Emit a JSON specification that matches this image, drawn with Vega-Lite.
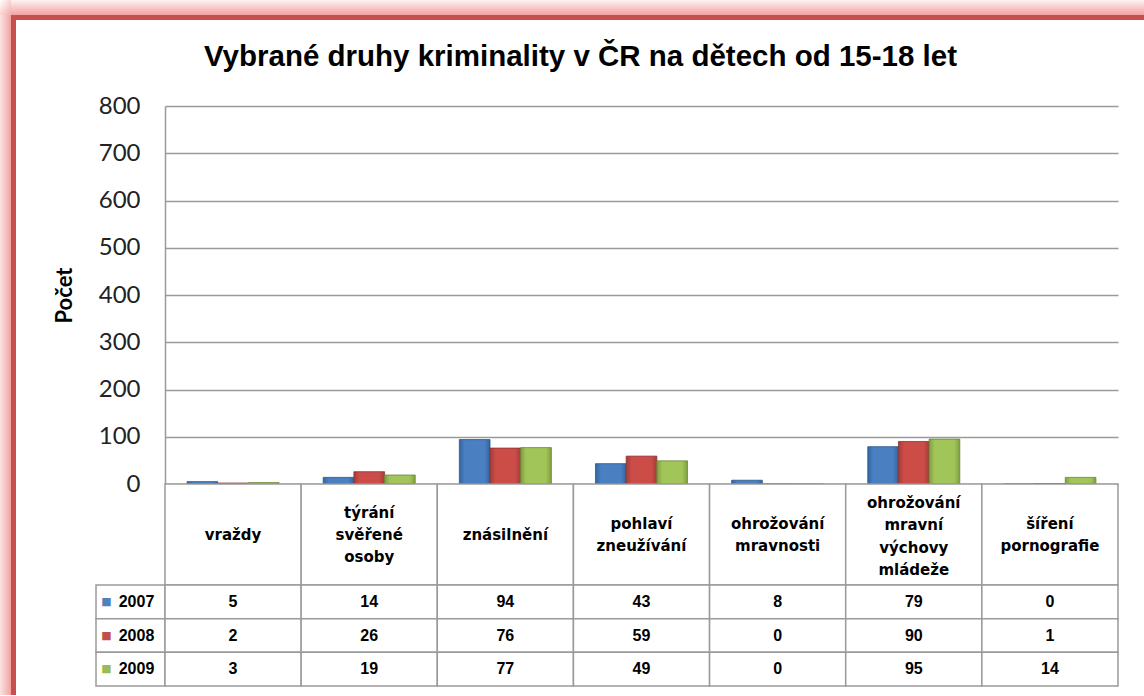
{
  "$schema": "https://vega.github.io/schema/vega-lite/v6.json",
  "background": "white",
  "padding": 0,
  "datasets": {
    "crime": [
      {"category": "vraždy", "year": "2007", "value": 5},
      {"category": "vraždy", "year": "2008", "value": 2},
      {"category": "vraždy", "year": "2009", "value": 3},
      {"category": "týrání svěřené osoby", "year": "2007", "value": 14},
      {"category": "týrání svěřené osoby", "year": "2008", "value": 26},
      {"category": "týrání svěřené osoby", "year": "2009", "value": 19},
      {"category": "znásilnění", "year": "2007", "value": 94},
      {"category": "znásilnění", "year": "2008", "value": 76},
      {"category": "znásilnění", "year": "2009", "value": 77},
      {"category": "pohlaví zneužívání", "year": "2007", "value": 43},
      {"category": "pohlaví zneužívání", "year": "2008", "value": 59},
      {"category": "pohlaví zneužívání", "year": "2009", "value": 49},
      {"category": "ohrožování mravnosti", "year": "2007", "value": 8},
      {"category": "ohrožování mravnosti", "year": "2008", "value": 0},
      {"category": "ohrožování mravnosti", "year": "2009", "value": 0},
      {"category": "ohrožování mravní výchovy mládeže", "year": "2007", "value": 79},
      {"category": "ohrožování mravní výchovy mládeže", "year": "2008", "value": 90},
      {"category": "ohrožování mravní výchovy mládeže", "year": "2009", "value": 95},
      {"category": "šíření pornografie", "year": "2007", "value": 0},
      {"category": "šíření pornografie", "year": "2008", "value": 1},
      {"category": "šíření pornografie", "year": "2009", "value": 14}
    ]
  },
  "data": {"name": "crime"},
  "columns": 5,
  "spacing": 0,
  "bounds": "flush",
  "concat": [
    {"width": 11, "height": 15, "transform": [{"filter": "datum.category == 'vraždy' && datum.year == '2007'"}], "mark": {"type": "rect", "color": {"gradient": "linear", "x1": 0, "y1": 0, "x2": 1, "y2": 1, "stops": [{"offset": 0, "color": "#ffffff"}, {"offset": 1, "color": "#f3acab"}]}}, "encoding": {}},
    {"width": 5, "height": 15, "transform": [{"filter": "datum.category == 'vraždy' && datum.year == '2007'"}], "mark": {"type": "rect", "color": {"gradient": "linear", "x1": 0, "y1": 0, "x2": 0, "y2": 1, "stops": [{"offset": 0, "color": "#fef3f3"}, {"offset": 1, "color": "#f2a2a1"}]}}, "encoding": {}},
    {"width": 80, "height": 15, "transform": [{"filter": "datum.category == 'vraždy' && datum.year == '2007'"}], "mark": {"type": "rect", "color": {"gradient": "linear", "x1": 0, "y1": 0, "x2": 0, "y2": 1, "stops": [{"offset": 0, "color": "#fef3f3"}, {"offset": 1, "color": "#f2a2a1"}]}}, "encoding": {}},
    {"width": 69, "height": 15, "transform": [{"filter": "datum.category == 'vraždy' && datum.year == '2007'"}], "mark": {"type": "rect", "color": {"gradient": "linear", "x1": 0, "y1": 0, "x2": 0, "y2": 1, "stops": [{"offset": 0, "color": "#fef3f3"}, {"offset": 1, "color": "#f2a2a1"}]}}, "encoding": {}},
    {"width": 979, "height": 15, "transform": [{"filter": "datum.category == 'vraždy' && datum.year == '2007'"}], "mark": {"type": "rect", "color": {"gradient": "linear", "x1": 0, "y1": 0, "x2": 0, "y2": 1, "stops": [{"offset": 0, "color": "#fef3f3"}, {"offset": 1, "color": "#f2a2a1"}]}}, "encoding": {}},

    {"width": 11, "height": 5, "transform": [{"filter": "datum.category == 'vraždy' && datum.year == '2007'"}], "mark": {"type": "rect", "color": {"gradient": "linear", "x1": 0, "y1": 0, "x2": 1, "y2": 0, "stops": [{"offset": 0, "color": "#fce3e3"}, {"offset": 1, "color": "#f2a2a1"}]}}, "encoding": {}},
    {"width": 5, "height": 5, "transform": [{"filter": "datum.category == 'vraždy' && datum.year == '2007'"}], "mark": {"type": "rect", "color": "#c5504e"}, "encoding": {}},
    {"width": 80, "height": 5, "transform": [{"filter": "datum.category == 'vraždy' && datum.year == '2007'"}], "mark": {"type": "rect", "color": "#c5504e"}, "encoding": {}},
    {"width": 69, "height": 5, "transform": [{"filter": "datum.category == 'vraždy' && datum.year == '2007'"}], "mark": {"type": "rect", "color": "#c5504e"}, "encoding": {}},
    {"width": 979, "height": 5, "transform": [{"filter": "datum.category == 'vraždy' && datum.year == '2007'"}], "mark": {"type": "rect", "color": "#c5504e"}, "encoding": {}},

    {"width": 11, "height": 86, "transform": [{"filter": "datum.category == 'vraždy' && datum.year == '2007'"}], "mark": {"type": "rect", "color": {"gradient": "linear", "x1": 0, "y1": 0, "x2": 1, "y2": 0, "stops": [{"offset": 0, "color": "#fce3e3"}, {"offset": 1, "color": "#f2a2a1"}]}}, "encoding": {}},
    {"width": 5, "height": 86, "transform": [{"filter": "datum.category == 'vraždy' && datum.year == '2007'"}], "mark": {"type": "rect", "color": "#c5504e"}, "encoding": {}},
    {"width": 80, "height": 86, "mark": {"type": "point", "opacity": 0}, "encoding": {}},
    {"width": 69, "height": 86, "mark": {"type": "point", "opacity": 0}, "encoding": {}},
    {
      "width": 953, "height": 86,
      "transform": [{"filter": "datum.category == 'vraždy' && datum.year == '2007'"}],
      "mark": {
        "type": "text",
        "text": "Vybrané druhy kriminality v ČR na dětech od 15-18 let",
        "font": "Liberation Sans", "fontSize": 29.5, "fontWeight": "bold", "color": "#000000",
        "baseline": "middle", "dx": -61, "dy": -6
      },
      "encoding": {}
    },

    {"width": 11, "height": 378, "transform": [{"filter": "datum.category == 'vraždy' && datum.year == '2007'"}], "mark": {"type": "rect", "color": {"gradient": "linear", "x1": 0, "y1": 0, "x2": 1, "y2": 0, "stops": [{"offset": 0, "color": "#fce3e3"}, {"offset": 1, "color": "#f2a2a1"}]}}, "encoding": {}},
    {"width": 5, "height": 378, "transform": [{"filter": "datum.category == 'vraždy' && datum.year == '2007'"}], "mark": {"type": "rect", "color": "#c5504e"}, "encoding": {}},
    {"width": 80, "height": 378, "mark": {"type": "point", "opacity": 0}, "encoding": {}},
    {"width": 69, "height": 378, "mark": {"type": "point", "opacity": 0}, "encoding": {}},
    {
      "width": 953,
      "height": 378,
      "encoding": {
        "x": {
          "field": "category", "type": "nominal", "sort": null,
          "scale": {"paddingInner": 0.324, "paddingOuter": 0.162},
          "axis": null
        },
        "xOffset": {"field": "year", "type": "nominal", "scale": {"domain": ["2007", "2008", "2009"]}},
        "y": {
          "field": "value", "type": "quantitative",
          "scale": {"domain": [0, 800]},
          "axis": {
            "values": [0, 100, 200, 300, 400, 500, 600, 700, 800],
            "title": "Počet",
            "titleFont": "Lato",
            "titleFontSize": 22,
            "titleFontWeight": "bold",
            "titleColor": "#000000",
            "titlePadding": 22,
            "labelFont": "Lato",
            "labelFontSize": 24,
            "labelColor": "#222222",
            "labelPadding": 25,
            "ticks": false,
            "domain": true,
            "domainColor": "#9a9a9a",
            "domainWidth": 1.5,
            "grid": true,
            "gridColor": "#9a9a9a",
            "gridWidth": 1.5
          }
        }
      },
      "layer": [
        {
          "transform": [{"filter": "datum.year == '2007'"}],
          "mark": {"type": "bar", "stroke": "#2c5689", "strokeWidth": 0.8,
            "color": {"gradient": "linear", "x1": 0, "y1": 0, "x2": 1, "y2": 0, "stops": [{"offset": 0, "color": "#33649f"}, {"offset": 0.18, "color": "#4a80c2"}, {"offset": 0.82, "color": "#4a80c2"}, {"offset": 1, "color": "#33649f"}]}}
        },
        {
          "transform": [{"filter": "datum.year == '2008'"}],
          "mark": {"type": "bar", "stroke": "#8a3331", "strokeWidth": 0.8,
            "color": {"gradient": "linear", "x1": 0, "y1": 0, "x2": 1, "y2": 0, "stops": [{"offset": 0, "color": "#a33c39"}, {"offset": 0.18, "color": "#cc4c48"}, {"offset": 0.82, "color": "#cc4c48"}, {"offset": 1, "color": "#a33c39"}]}}
        },
        {
          "transform": [{"filter": "datum.year == '2009'"}],
          "mark": {"type": "bar", "stroke": "#6a8636", "strokeWidth": 0.8,
            "color": {"gradient": "linear", "x1": 0, "y1": 0, "x2": 1, "y2": 0, "stops": [{"offset": 0, "color": "#7f9e40"}, {"offset": 0.18, "color": "#a2c55a"}, {"offset": 0.82, "color": "#a2c55a"}, {"offset": 1, "color": "#7f9e40"}]}}
        }
      ]
    },

    {"width": 11, "height": 101, "transform": [{"filter": "datum.category == 'vraždy' && datum.year == '2007'"}], "mark": {"type": "rect", "color": {"gradient": "linear", "x1": 0, "y1": 0, "x2": 1, "y2": 0, "stops": [{"offset": 0, "color": "#fce3e3"}, {"offset": 1, "color": "#f2a2a1"}]}}, "encoding": {}},
    {"width": 5, "height": 101, "transform": [{"filter": "datum.category == 'vraždy' && datum.year == '2007'"}], "mark": {"type": "rect", "color": "#c5504e"}, "encoding": {}},
    {"width": 80, "height": 101, "mark": {"type": "point", "opacity": 0}, "encoding": {}},
    {"width": 69, "height": 101, "mark": {"type": "point", "opacity": 0}, "encoding": {}},
    {
      "width": 953,
      "height": 101,
      "transform": [{"filter": "datum.year == '2007'"}],
      "encoding": {
        "x": {
          "field": "category", "type": "nominal", "sort": null,
          "scale": {"paddingInner": 0, "paddingOuter": 0},
          "axis": null
        },
        "text": {"field": "category"}
      },
      "layer": [
        {"mark": {"type": "rect", "fill": "white", "stroke": "#9a9a9a", "strokeWidth": 1.5}, "encoding": {"text": null}},
        {
          "transform": [{"filter": "length(split(datum.category, ' ')) == 1"}],
          "mark": {"type": "text", "font": "DejaVu Sans", "fontWeight": "bold", "fontSize": 15, "lineBreak": " ", "lineHeight": 22, "baseline": "middle", "color": "#000000", "dy": 0}
        },
        {
          "transform": [{"filter": "length(split(datum.category, ' ')) == 2"}],
          "mark": {"type": "text", "font": "DejaVu Sans", "fontWeight": "bold", "fontSize": 15, "lineBreak": " ", "lineHeight": 22, "baseline": "middle", "color": "#000000", "dy": -11}
        },
        {
          "transform": [{"filter": "length(split(datum.category, ' ')) == 3"}],
          "mark": {"type": "text", "font": "DejaVu Sans", "fontWeight": "bold", "fontSize": 15, "lineBreak": " ", "lineHeight": 22, "baseline": "middle", "color": "#000000", "dy": -22}
        },
        {
          "transform": [{"filter": "length(split(datum.category, ' ')) == 4"}],
          "mark": {"type": "text", "font": "DejaVu Sans", "fontWeight": "bold", "fontSize": 15, "lineBreak": " ", "lineHeight": 22.5, "baseline": "middle", "color": "#000000", "dy": -32}
        }
      ]
    },

    {"width": 11, "height": 110, "transform": [{"filter": "datum.category == 'vraždy' && datum.year == '2007'"}], "mark": {"type": "rect", "color": {"gradient": "linear", "x1": 0, "y1": 0, "x2": 1, "y2": 0, "stops": [{"offset": 0, "color": "#fce3e3"}, {"offset": 1, "color": "#f2a2a1"}]}}, "encoding": {}},
    {"width": 5, "height": 110, "transform": [{"filter": "datum.category == 'vraždy' && datum.year == '2007'"}], "mark": {"type": "rect", "color": "#c5504e"}, "encoding": {}},
    {"width": 80, "height": 101, "mark": {"type": "point", "opacity": 0}, "encoding": {}},
    {
      "width": 69,
      "height": 101,
      "transform": [{"filter": "datum.category == 'vraždy'"}],
      "encoding": {
        "y": {"field": "year", "type": "nominal", "scale": {"paddingInner": 0, "paddingOuter": 0}, "axis": null}
      },
      "layer": [
        {"mark": {"type": "rect", "fill": "white", "stroke": "#9a9a9a", "strokeWidth": 1.5}},
        {
          "mark": {"type": "text", "font": "Liberation Sans", "fontWeight": "bold", "fontSize": 16, "dx": 6, "color": "#000000"},
          "encoding": {"text": {"field": "year"}}
        },
        {
          "mark": {"type": "text", "text": "■", "font": "DejaVu Sans", "fontSize": 11, "dx": -24},
          "encoding": {
            "color": {
              "field": "year", "type": "nominal",
              "scale": {"domain": ["2007", "2008", "2009"], "range": ["#4F81BD", "#C0504D", "#9BBB59"]},
              "legend": null
            }
          }
        }
      ]
    },
    {
      "width": 953,
      "height": 101,
      "encoding": {
        "x": {
          "field": "category", "type": "nominal", "sort": null,
          "scale": {"paddingInner": 0, "paddingOuter": 0},
          "axis": null
        },
        "y": {"field": "year", "type": "nominal", "scale": {"paddingInner": 0, "paddingOuter": 0}, "axis": null}
      },
      "layer": [
        {"mark": {"type": "rect", "fill": "white", "stroke": "#9a9a9a", "strokeWidth": 1.5}},
        {
          "mark": {"type": "text", "font": "Liberation Sans", "fontWeight": "bold", "fontSize": 16, "color": "#000000"},
          "encoding": {"text": {"field": "value"}}
        }
      ]
    }
  ],
  "config": {
    "view": {"stroke": null}
  }
}
